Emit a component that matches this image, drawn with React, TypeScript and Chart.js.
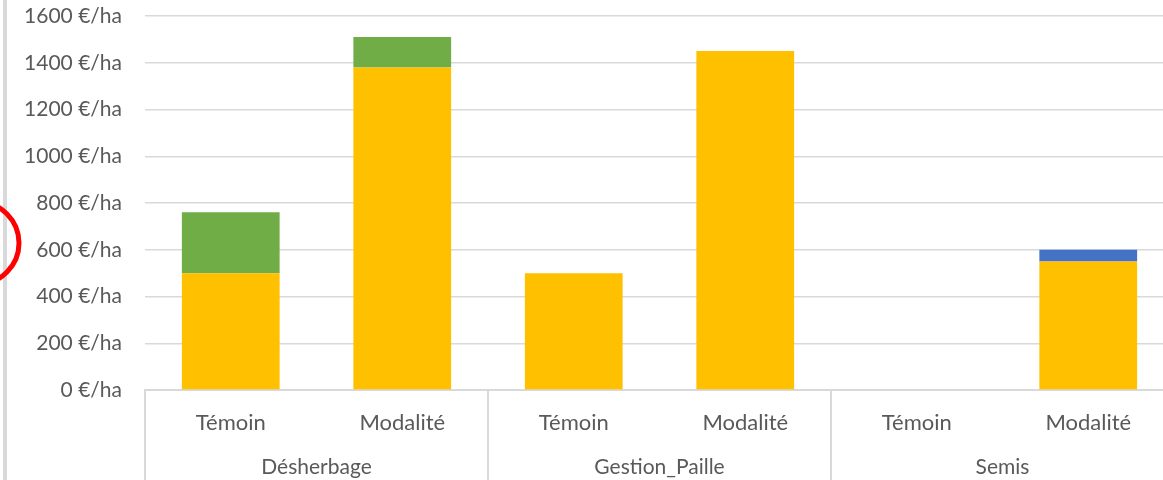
import React, { useEffect, useRef } from "react";
import { Chart, registerables } from "chart.js";

Chart.register(...registerables);

// Sub-categories along the x axis, grouped two by two
const modalites = ["Témoin", "Modalité", "Témoin", "Modalité", "Témoin", "Modalité"];
const groupes = ["Désherbage", "Gestion_Paille", "Semis"];

// Stacked cost components (€/ha)
const coutBase = [500, 1380, 500, 1450, 0, 550];
const coutDesherbage = [260, 130, 0, 0, 0, 0];
const coutSemis = [0, 0, 0, 0, 0, 50];

// Y axis range and step (€/ha)
const yMin = 0;
const yMax = 1600;
const yStep = 200;

const FONT = "Lato, 'Open Sans', sans-serif";
const TEXT = "#595959";
const LINE = "#d9d9d9";

// Group labels under the category row, with separators between groups
const groupAxisPlugin = {
  id: "groupAxis",
  afterDraw(chart: any) {
    const { ctx, chartArea, height } = chart;
    const n = groupes.length;
    const w = (chartArea.right - chartArea.left) / n;
    ctx.save();
    ctx.strokeStyle = LINE;
    ctx.lineWidth = 2;
    for (let i = 0; i <= n; i++) {
      const x = Math.round(chartArea.left + i * w);
      ctx.beginPath();
      ctx.moveTo(x, chartArea.bottom);
      ctx.lineTo(x, height);
      ctx.stroke();
    }
    ctx.fillStyle = TEXT;
    ctx.font = `21px ${FONT}`;
    ctx.textAlign = "center";
    ctx.textBaseline = "alphabetic";
    groupes.forEach((g, i) => {
      ctx.fillText(g, chartArea.left + (i + 0.5) * w, chartArea.bottom + 84);
    });
    ctx.restore();
  },
};

// Page edge rule and the red circled mark on the left margin
const marginPlugin = {
  id: "marginMarks",
  afterDraw(chart: any) {
    const { ctx, height } = chart;
    ctx.save();
    ctx.fillStyle = "#d9d9d9";
    ctx.fillRect(3, 0, 4, height);
    ctx.strokeStyle = "#ff0000";
    ctx.lineWidth = 5;
    ctx.beginPath();
    ctx.arc(-22, 243, 41, 0, Math.PI * 2);
    ctx.stroke();
    ctx.restore();
  },
};

export default function App() {
  const ref = useRef<HTMLCanvasElement>(null);

  useEffect(() => {
    if (!ref.current) return;
    const chart = new Chart(ref.current, {
      type: "bar",
      data: {
        labels: modalites,
        datasets: [
          { label: "Base", data: coutBase, backgroundColor: "#FFC000", borderWidth: 0 },
          { label: "Désherbage", data: coutDesherbage, backgroundColor: "#70AD47", borderWidth: 0 },
          { label: "Semis", data: coutSemis, backgroundColor: "#4472C4", borderWidth: 0 },
        ],
      },
      options: {
        responsive: false,
        animation: false,
        devicePixelRatio: 1,
        layout: { padding: { top: 16, right: 6, left: 0, bottom: 0 } },
        datasets: { bar: { categoryPercentage: 1, barPercentage: 0.57 } },
        plugins: { legend: { display: false }, tooltip: { enabled: false } },
        scales: {
          x: {
            stacked: true,
            grid: { display: false },
            border: { display: true, color: LINE, width: 2 },
            ticks: { color: TEXT, font: { family: FONT, size: 22 }, padding: 12 },
            afterFit: (s: any) => {
              s.height = 90;
              s.paddingLeft = 0;
              s.paddingRight = 0;
            },
          },
          y: {
            stacked: true,
            min: yMin,
            max: yMax,
            border: { display: false },
            grid: { color: LINE, lineWidth: 1.5, drawTicks: false },
            ticks: {
              stepSize: yStep,
              padding: 23,
              color: TEXT,
              font: { family: FONT, size: 21 },
              callback: (v: any) => `${v} €/ha`,
            },
            afterFit: (s: any) => {
              s.width = 145;
              s.paddingTop = 0;
              s.paddingBottom = 0;
            },
          },
        },
      },
      plugins: [groupAxisPlugin, marginPlugin],
    });
    return () => chart.destroy();
  }, []);

  return (
    <div
      style={{
        position: "fixed",
        left: 0,
        top: 0,
        width: 1163,
        height: 480,
        overflow: "hidden",
        background: "#fff",
      }}
    >
      <canvas ref={ref} width={1180} height={480} style={{ width: 1180, height: 480, display: "block" }} />
    </div>
  );
}
